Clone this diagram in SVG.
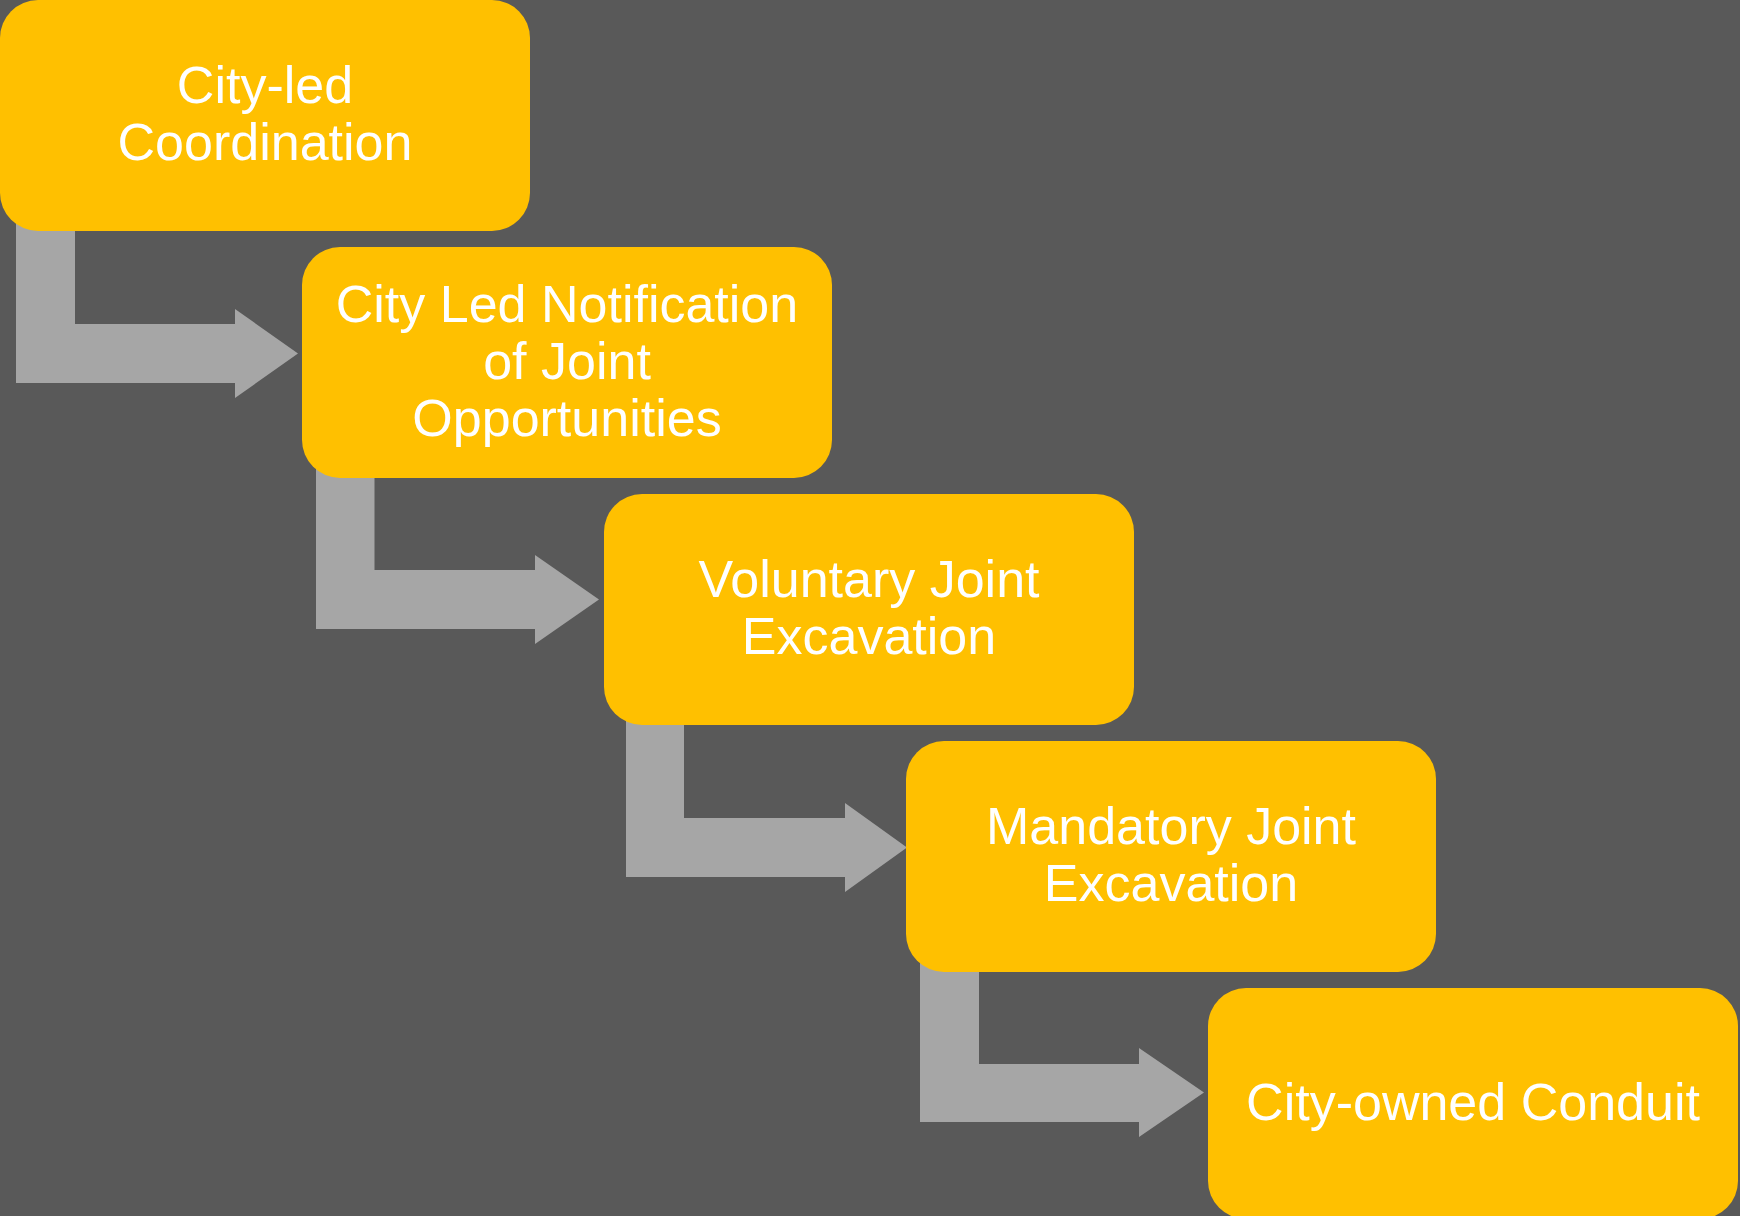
<svg xmlns="http://www.w3.org/2000/svg" width="1740" height="1216" viewBox="0 0 1740 1216">
<style>
.box{fill:#FFC000;}
.arr{fill:#A6A6A6;}
.t{font-family:"Liberation Sans",Arial,sans-serif;font-size:52px;fill:#FFFFFF;text-anchor:middle;}
</style>
<rect x="0" y="0" width="1740" height="1216" fill="#595959"/>
<g id="connectors">
<polygon class="arr" points="16,200 75,200 75,324 235,324 235,309 298,353.5 235,398 235,383 16,383"/>
<polygon class="arr" points="316,447 374.5,447 374.5,570 535,570 535,555 599,599.5 535,644 535,629 316,629"/>
<polygon class="arr" points="626,694 684,694 684,818 845,818 845,803 907,847.5 845,892 845,877 626,877"/>
<polygon class="arr" points="920,941 979,941 979,1064 1139,1064 1139,1048 1204,1092.5 1139,1137 1139,1122 920,1122"/>
</g>
<g id="n1">
<rect class="box" x="0" y="0" width="530" height="231" rx="38" ry="38"/>
<text class="t" x="265" y="103">City-led</text>
<text class="t" x="265" y="160">Coordination</text>
</g>
<g id="n2">
<rect class="box" x="302" y="247" width="530" height="231" rx="38" ry="38"/>
<text class="t" x="567" y="322">City Led Notification</text>
<text class="t" x="567" y="379">of Joint</text>
<text class="t" x="567" y="436">Opportunities</text>
</g>
<g id="n3">
<rect class="box" x="604" y="494" width="530" height="231" rx="38" ry="38"/>
<text class="t" x="869" y="597">Voluntary Joint</text>
<text class="t" x="869" y="654">Excavation</text>
</g>
<g id="n4">
<rect class="box" x="906" y="741" width="530" height="231" rx="38" ry="38"/>
<text class="t" x="1171" y="844">Mandatory Joint</text>
<text class="t" x="1171" y="901">Excavation</text>
</g>
<g id="n5">
<rect class="box" x="1208" y="988" width="530" height="231" rx="38" ry="38"/>
<text class="t" x="1473" y="1120">City-owned Conduit</text>
</g>
</svg>
